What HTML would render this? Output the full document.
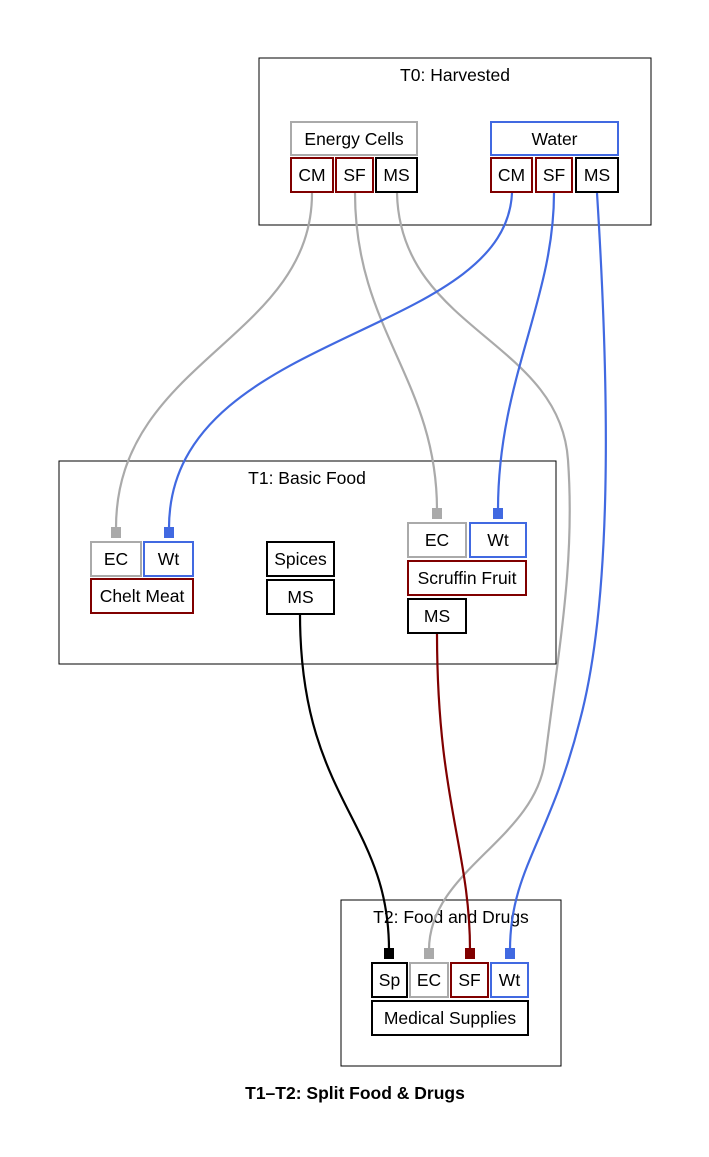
<!DOCTYPE html>
<html><head><meta charset="utf-8"><style>
html,body{margin:0;padding:0;background:#fff}
svg{display:block}
text{font-family:"Liberation Sans",Arial,sans-serif;font-size:17.5px;fill:#000}
</style></head><body>
<svg width="709" height="1157" viewBox="0 0 709 1157" xmlns="http://www.w3.org/2000/svg">
<rect x="0" y="0" width="709" height="1157" fill="#fff"/>
<g fill="none" stroke="#000" stroke-width="1">
<rect x="259" y="58" width="392" height="167"/>
<rect x="59" y="461" width="497" height="203"/>
<rect x="341" y="900" width="220" height="166"/>
</g>
<g text-anchor="middle">
<text x="455" y="81">T0: Harvested</text>
<text x="307" y="484">T1: Basic Food</text>
<text x="451" y="923">T2: Food and Drugs</text>
<text x="355" y="1099" font-weight="bold">T1–T2: Split Food &amp; Drugs</text>
</g>
<!-- edges -->
<g fill="none" stroke-width="2.2">
<path d="M312,193 C312,340 116,360 116,528" stroke="#aaaaaa"/>
<path d="M355,193 C355,330 437,380 437,510" stroke="#aaaaaa"/>
<path d="M397,193 C400,330 560,340 568,460 C575,560 560,640 545,760 C535,840 429,870 429,950" stroke="#aaaaaa"/>
<path d="M512,193 C505,340 169,330 169,528" stroke="#4169e1"/>
<path d="M554,193 C554,300 498,380 498,510" stroke="#4169e1"/>
<path d="M597,193 C610,400 612,600 580,720 C550,840 510,870 510,950" stroke="#4169e1"/>
<path d="M300,614 C300,800 389,820 389,950" stroke="#000"/>
<path d="M437,633 C437,800 470,850 470,950" stroke="#800000"/>
</g>
<g>
<rect x="111" y="527" width="10" height="11" fill="#aaaaaa"/>
<rect x="164" y="527" width="10" height="11" fill="#4169e1"/>
<rect x="432" y="508" width="10" height="11" fill="#aaaaaa"/>
<rect x="493" y="508" width="10" height="11" fill="#4169e1"/>
<rect x="384" y="948" width="10" height="11" fill="#000"/>
<rect x="424" y="948" width="10" height="11" fill="#aaaaaa"/>
<rect x="465" y="948" width="10" height="11" fill="#800000"/>
<rect x="505" y="948" width="10" height="11" fill="#4169e1"/>
</g>
<!-- nodes -->
<g fill="#fff" stroke-width="2">
<rect x="291" y="122" width="126" height="33" stroke="#aaaaaa"/>
<rect x="291" y="158" width="42" height="34" stroke="#800000"/>
<rect x="336" y="158" width="37" height="34" stroke="#800000"/>
<rect x="376" y="158" width="41" height="34" stroke="#000"/>
<rect x="491" y="122" width="127" height="33" stroke="#4169e1"/>
<rect x="491" y="158" width="41" height="34" stroke="#800000"/>
<rect x="536" y="158" width="36" height="34" stroke="#800000"/>
<rect x="576" y="158" width="42" height="34" stroke="#000"/>

<rect x="91" y="542" width="50" height="34" stroke="#aaaaaa"/>
<rect x="144" y="542" width="49" height="34" stroke="#4169e1"/>
<rect x="91" y="579" width="102" height="34" stroke="#800000"/>
<rect x="267" y="542" width="67" height="34" stroke="#000"/>
<rect x="267" y="580" width="67" height="34" stroke="#000"/>
<rect x="408" y="523" width="58" height="34" stroke="#aaaaaa"/>
<rect x="470" y="523" width="56" height="34" stroke="#4169e1"/>
<rect x="408" y="561" width="118" height="34" stroke="#800000"/>
<rect x="408" y="599" width="58" height="34" stroke="#000"/>

<rect x="372" y="963" width="35" height="34" stroke="#000"/>
<rect x="410" y="963" width="38" height="34" stroke="#aaaaaa"/>
<rect x="451" y="963" width="37" height="34" stroke="#800000"/>
<rect x="491" y="963" width="37" height="34" stroke="#4169e1"/>
<rect x="372" y="1001" width="156" height="34" stroke="#000"/>
</g>
<g text-anchor="middle">
<text x="354" y="145">Energy Cells</text>
<text x="312" y="181">CM</text>
<text x="354.5" y="181">SF</text>
<text x="396.5" y="181">MS</text>
<text x="554.5" y="145">Water</text>
<text x="511.5" y="181">CM</text>
<text x="554" y="181">SF</text>
<text x="597" y="181">MS</text>

<text x="116" y="565">EC</text>
<text x="168.5" y="565">Wt</text>
<text x="142" y="602">Chelt Meat</text>
<text x="300.5" y="565">Spices</text>
<text x="300.5" y="603">MS</text>
<text x="437" y="546">EC</text>
<text x="498" y="546">Wt</text>
<text x="467" y="584">Scruffin Fruit</text>
<text x="437" y="622">MS</text>

<text x="389.5" y="986">Sp</text>
<text x="429" y="986">EC</text>
<text x="469.5" y="986">SF</text>
<text x="509.5" y="986">Wt</text>
<text x="450" y="1024">Medical Supplies</text>
</g>
</svg>
</body></html>
